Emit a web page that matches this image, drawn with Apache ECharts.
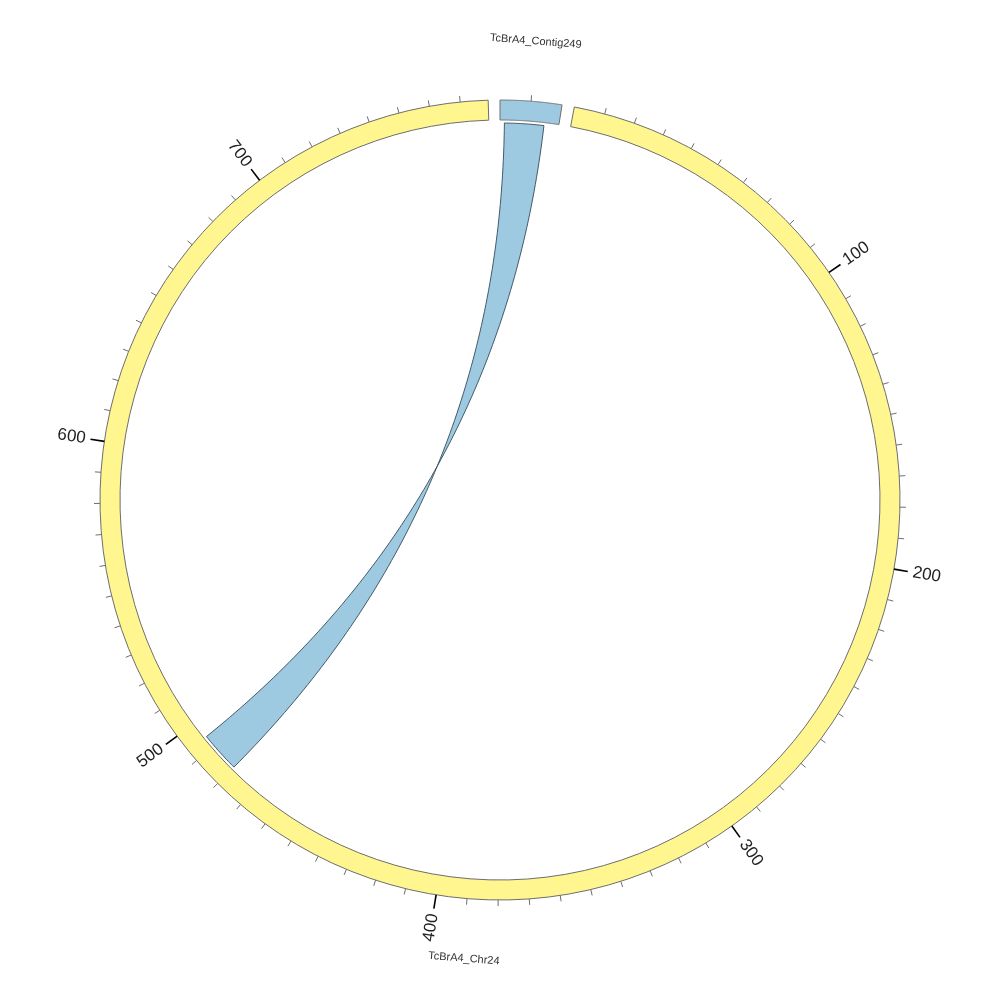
<!DOCTYPE html>
<html>
<head>
<meta charset="utf-8">
<script src="https://cdn.jsdelivr.net/npm/echarts@6/dist/echarts.min.js"></script>
<style>html,body{margin:0;padding:0;background:#fff}#c{width:1000px;height:1000px}</style>
</head>
<body>
<div id="c"></div>
<script>
// ---- data ----
const sectorNames = ['TcBrA4_Contig249', 'TcBrA4_Chr24'];
const sectorLengths = [20, 779];
const sectorColors = ['#9ECAE1', '#FFF68F'];
const majorTickValues = [100, 200, 300, 400, 500, 600, 700];
const majorTickLabels = ['100', '200', '300', '400', '500', '600', '700'];
const minorTickStep = 10;
const linkSource = { sector: 0, start: 1.5, end: 15 };
const linkTarget = { sector: 1, start: 480, end: 494 };
const linkColor = '#9ECAE1';

// ---- layout ----
const GAP = 4;          // gap between sectors (units)
const TOTAL = 806.8;    // full circle in units
const R_OUT = 400, R_IN = 380, R_LINK = 377;
const sectorOffsets = [];
{ let o = 0; sectorLengths.forEach((l, i) => { sectorOffsets.push(o); o += l + GAP; }); }

function arcPts(api, r, a0, a1, n) {
  const pts = [];
  for (let i = 0; i <= n; i++) pts.push(api.coord([r, a0 + (a1 - a0) * i / n]));
  return pts;
}
function screenAngle(api, p) {
  const c = api.coord([0, 0]);
  return Math.atan2(p[1] - c[1], p[0] - c[0]);
}

// ticks list (absolute positions)
const ticks = [];
sectorLengths.forEach((len, si) => {
  for (let v = minorTickStep; v < len; v += minorTickStep) {
    const mi = majorTickValues.indexOf(v);
    const major = si === 1 && mi >= 0;
    ticks.push([sectorOffsets[si] + v, major ? 1 : 0, major ? majorTickLabels[mi] : '']);
  }
});

const chart = echarts.init(document.getElementById('c'), null, { renderer: 'canvas' });
chart.setOption({
  animation: false,
  backgroundColor: '#fff',
  polar: { center: [500, 500], radius: R_OUT },
  angleAxis: { type: 'value', min: 0, max: TOTAL, startAngle: 90, clockwise: true, show: false },
  radiusAxis: { type: 'value', min: 0, max: R_OUT, show: false },
  series: [
    {
      type: 'custom', coordinateSystem: 'polar', silent: true, clip: false,
      data: sectorNames.map((n, i) => [sectorOffsets[i], sectorOffsets[i] + sectorLengths[i]]),
      renderItem: function (params, api) {
        const i = params.dataIndex;
        const a0 = sectorOffsets[i], a1 = a0 + sectorLengths[i];
        const pts = arcPts(api, R_OUT, a0, a1, 120).concat(arcPts(api, R_IN, a1, a0, 120));
        return { type: 'polygon', shape: { points: pts },
          style: { fill: sectorColors[i], stroke: '#6e6e6e', lineWidth: 1 } };
      }
    },
    {
      type: 'custom', coordinateSystem: 'polar', silent: true, clip: false,
      data: [0],
      renderItem: function (params, api) {
        const s0 = sectorOffsets[linkSource.sector] + linkSource.start;
        const s1 = sectorOffsets[linkSource.sector] + linkSource.end;
        const t0 = sectorOffsets[linkTarget.sector] + linkTarget.start;
        const t1 = sectorOffsets[linkTarget.sector] + linkTarget.end;
        const c = api.coord([0, 0]);
        function bez(p0, p2, n) {
          const out = [];
          for (let k = 1; k < n; k++) {
            const t = k / n, u = 1 - t;
            out.push([u * u * p0[0] + 2 * u * t * c[0] + t * t * p2[0],
                      u * u * p0[1] + 2 * u * t * c[1] + t * t * p2[1]]);
          }
          return out;
        }
        const arcS = arcPts(api, R_LINK, s0, s1, 20);
        const arcT = arcPts(api, R_LINK, t1, t0, 20);
        const pts = arcS.concat(bez(arcS[arcS.length - 1], arcT[0], 100))
          .concat(arcT).concat(bez(arcT[arcT.length - 1], arcS[0], 100));
        return { type: 'polygon', shape: { points: pts },
          style: { fill: linkColor, stroke: '#34495a', lineWidth: 0.9 } };
      }
    },
    {
      type: 'custom', coordinateSystem: 'polar', silent: true, clip: false,
      data: ticks.map(t => [R_OUT, t[0]]),
      renderItem: function (params, api) {
        const t = ticks[params.dataIndex];
        const major = t[1] === 1;
        const p0 = api.coord([R_OUT, t[0]]);
        const p1 = api.coord([R_OUT + (major ? 14 : 6), t[0]]);
        const children = [{ type: 'line', shape: { x1: p0[0], y1: p0[1], x2: p1[0], y2: p1[1] },
          style: { stroke: major ? '#000' : '#6e6e6e', lineWidth: major ? 1.6 : 1 } }];
        if (major) {
          const pl = api.coord([R_OUT + 19, t[0]]);
          const phi = screenAngle(api, pl);
          const right = Math.cos(phi) >= 0;
          children.push({ type: 'text', x: pl[0], y: pl[1], rotation: right ? -phi : Math.PI - phi,
            style: { text: t[2], fontFamily: 'Liberation Sans, Arial, sans-serif', fontSize: 17,
              fill: '#222', align: right ? 'left' : 'right', verticalAlign: 'middle' } });
        }
        return { type: 'group', children: children };
      }
    },
    {
      type: 'custom', coordinateSystem: 'polar', silent: true, clip: false,
      data: sectorNames.map((n, i) => [R_OUT, sectorOffsets[i] + sectorLengths[i] / 2]),
      renderItem: function (params, api) {
        const i = params.dataIndex;
        const mid = sectorOffsets[i] + sectorLengths[i] / 2;
        const p = api.coord([460, mid]);
        const phi = screenAngle(api, p);
        const bottom = Math.sin(phi) > 0;
        const rot = bottom ? (Math.PI / 2 - phi) : (-Math.PI / 2 - phi);
        return { type: 'text', x: p[0], y: p[1], rotation: rot,
          style: { text: sectorNames[i], fontFamily: 'Liberation Sans, Arial, sans-serif', fontSize: 11,
            fill: '#333', align: 'center', verticalAlign: 'middle' } };
      }
    }
  ]
});
</script>
</body>
</html>
